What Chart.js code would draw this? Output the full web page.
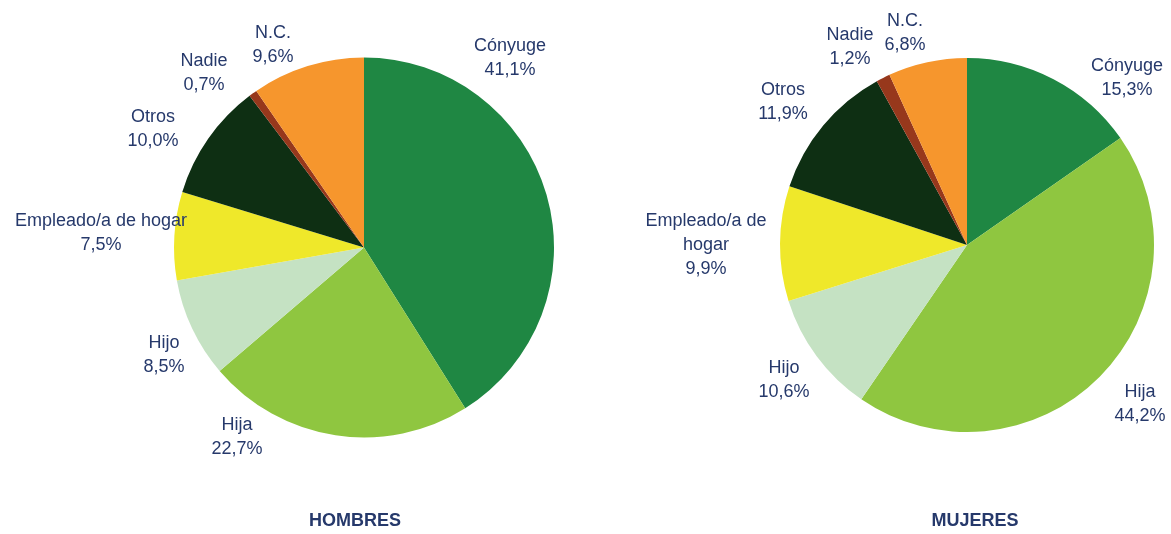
<!DOCTYPE html>
<html>
<head>
<meta charset="utf-8">
<script src="https://cdn.jsdelivr.net/npm/chart.js@4/dist/chart.umd.min.js"></script>
<style>
  body { margin: 0; background: #fff; width: 1171px; height: 534px; position: relative; overflow: hidden; }
  .box { position: absolute; top: 0; height: 534px; }
  #box-h { left: 0; width: 585px; }
  #box-m { left: 585px; width: 586px; }
  .title { position: absolute; top: 510px; line-height: 20px; font: bold 18px "Liberation Sans", Arial, sans-serif; color: #26396b; transform: translateX(-50%); }
</style>
</head>
<body>
<div class="box" id="box-h"><canvas id="hombres"></canvas></div>
<div class="box" id="box-m"><canvas id="mujeres"></canvas></div>
<div class="title" style="left:355px">HOMBRES</div>
<div class="title" style="left:975px">MUJERES</div>
<script>
const categories = ['Cónyuge', 'Hija', 'Hijo', 'Empleado/a de hogar', 'Otros', 'Nadie', 'N.C.'];
const hombres = [41.1, 22.7, 8.5, 7.5, 10.0, 0.7, 9.6];
const mujeres = [15.3, 44.2, 10.6, 9.9, 11.9, 1.2, 6.8];
const colors = ['#1f8743', '#8fc640', '#c5e2c3', '#efe82a', '#0e2f13', '#97381c', '#f6962d'];

// label line breaks and positions (offset from pie centre, in radii)
const labelsHombres = [['Cónyuge'], ['Hija'], ['Hijo'], ['Empleado/a de hogar'], ['Otros'], ['Nadie'], ['N.C.']];
const labelsMujeres = [['Cónyuge'], ['Hija'], ['Hijo'], ['Empleado/a de', 'hogar'], ['Otros'], ['Nadie'], ['N.C.']];
const posHombres = [[0.768, -0.997], [-0.668, 0.997], [-1.053, 0.566], [-1.384, -0.076], [-1.111, -0.624], [-0.842, -0.918], [-0.479, -1.066]];
const posMujeres = [[0.856, -0.893], [0.925, 0.850], [-0.979, 0.722], [-1.396, 0.0], [-0.984, -0.765], [-0.626, -1.059], [-0.332, -1.134]];

const fmt = v => v.toFixed(1).replace('.', ',') + '%';

const outsideLabels = {
  id: 'outsideLabels',
  afterDraw(chart, args, opts) {
    const { ctx } = chart;
    const arcs = chart.getDatasetMeta(0).data;
    const values = chart.data.datasets[0].data;
    ctx.save();
    ctx.font = '18px "Liberation Sans", Arial, sans-serif';
    ctx.fillStyle = '#26396b';
    ctx.textAlign = 'center';
    ctx.textBaseline = 'middle';
    arcs.forEach((arc, i) => {
      const r = arc.outerRadius;
      const x = arc.x + opts.pos[i][0] * r;
      const y = arc.y + opts.pos[i][1] * r;
      const lines = opts.lines[i].concat([fmt(values[i])]);
      const lh = 24;
      const y0 = y - (lines.length - 1) * lh / 2;
      lines.forEach((t, k) => ctx.fillText(t, x, y0 + k * lh));
    });
    ctx.restore();
  }
};

function makePie(id, values, lines, pos, padding) {
  new Chart(document.getElementById(id), {
    type: 'pie',
    data: {
      labels: categories,
      datasets: [{
        data: values,
        backgroundColor: colors,
        borderWidth: 0
      }]
    },
    options: {
      responsive: true,
      maintainAspectRatio: false,
      animation: false,
      layout: { padding: padding },
      plugins: {
        legend: { display: false },
        tooltip: { enabled: false },
        outsideLabels: { lines: lines, pos: pos }
      }
    },
    plugins: [outsideLabels]
  });
}

makePie('hombres', hombres, labelsHombres, posHombres, { left: 174, right: 31, top: 57, bottom: 96 });
makePie('mujeres', mujeres, labelsMujeres, posMujeres, { left: 195, right: 17, top: 58, bottom: 102 });
</script>
</body>
</html>
